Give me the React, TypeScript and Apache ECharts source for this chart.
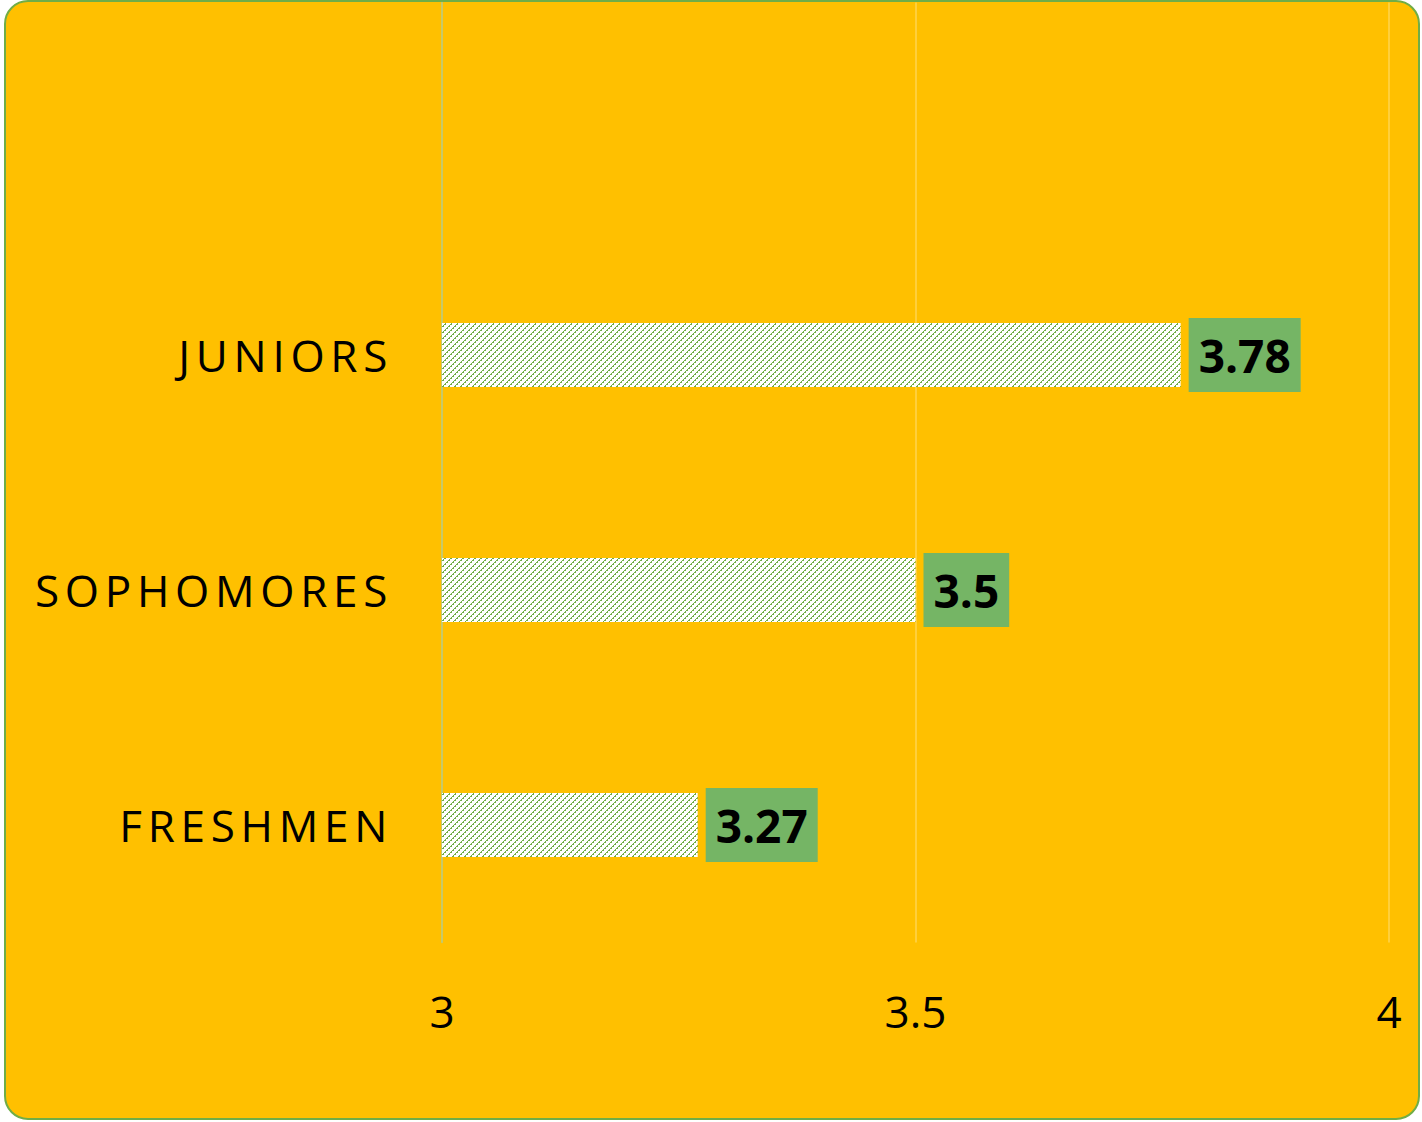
import React, { useEffect, useRef } from 'react';
import * as echarts from 'echarts';

const categories = ['FRESHMEN', 'SOPHOMORES', 'JUNIORS'];
const values = [3.27, 3.5, 3.78];
const axisMin = 3;
const axisMax = 4;
const axisInterval = 0.5;

function makePattern(): HTMLCanvasElement {
  const n = 6;
  const c = document.createElement('canvas');
  c.width = n;
  c.height = n;
  const ctx = c.getContext('2d')!;
  ctx.fillStyle = '#ffffff';
  ctx.fillRect(0, 0, n, n);
  ctx.fillStyle = '#70AD47';
  for (let y = 0; y < n; y++) {
    for (let x = 0; x < n; x++) {
      const m = (x + y) % n;
      if (m === 0 || (m === 1 && y % 2 === 0)) ctx.fillRect(x, y, 1, 1);
    }
  }
  return c;
}

export default function App() {
  const ref = useRef<HTMLDivElement>(null);

  useEffect(() => {
    const el = ref.current!;
    const chart = echarts.init(el, undefined, { renderer: 'svg' });
    const pattern = makePattern();
    const option: any = {
      animation: false,
      backgroundColor: 'transparent',
      grid: { left: 442, right: 33, top: 2.5, bottom: 179.5, containLabel: false },
      xAxis: {
        type: 'value',
        min: axisMin,
        max: axisMax,
        interval: axisInterval,
        axisLine: { show: false },
        axisTick: { show: false },
        splitLine: { show: true, lineStyle: { color: '#FFD54F', width: 1.5 } },
        axisLabel: {
          color: '#000',
          fontFamily: 'Open Sans',
          fontSize: 44,
          margin: 46,
          formatter: (v: number) => String(v),
        },
      },
      yAxis: {
        type: 'category',
        data: [...categories, ''],
        axisTick: { show: false },
        axisLine: { show: true, lineStyle: { color: '#B5C77A', width: 1.5 } },
        axisLabel: {
          color: '#000',
          fontFamily: 'Open Sans',
          fontSize: 44,
          margin: 49,
          padding: [0, 0, 4, 0],
        },
      },
      series: [
        {
          type: 'bar',
          data: values,
          barWidth: 64,
          itemStyle: { color: { image: pattern, repeat: 'repeat' } },
          label: {
            show: true,
            position: 'right',
            distance: 8,
            backgroundColor: '#75B565',
            padding: [12, 10],
            color: '#000',
            fontWeight: 'bold',
            fontFamily: 'Open Sans',
            fontSize: 46,
            lineHeight: 50,
          },
        },
      ],
    };
    chart.setOption(option);
    const applySpacing = () => {
      el.querySelectorAll('text').forEach((t) => {
        if (categories.includes((t.textContent || '').trim())) {
          (t as SVGTextElement).style.letterSpacing = '5.7px';
        }
      });
    };
    applySpacing();
    chart.on('finished', applySpacing);
    return () => {
      chart.dispose();
    };
  }, []);

  return (
    <div style={{ position: 'absolute', left: 0, top: 0, width: 1422, height: 1122, overflow: 'hidden' }}>
      <div
        style={{
          position: 'absolute',
          left: 4,
          top: 0,
          width: 1416,
          height: 1120,
          boxSizing: 'border-box',
          background: '#FFC000',
          border: '2px solid #70AD47',
          borderRadius: 24,
        }}
      />
      <div ref={ref} style={{ position: 'absolute', left: 0, top: 0, width: 1422, height: 1122 }} />
    </div>
  );
}
